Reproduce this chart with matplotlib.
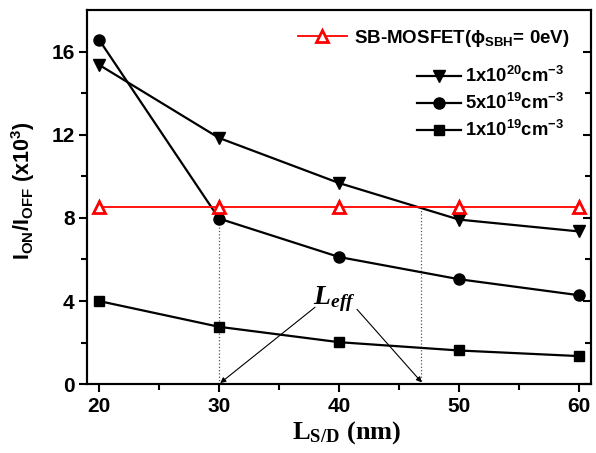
import matplotlib
matplotlib.use("Agg")
import matplotlib.pyplot as plt

plt.rcParams['font.family'] = ['Liberation Sans', 'DejaVu Sans']
plt.rcParams['font.weight'] = 'bold'
plt.rcParams['mathtext.fontset'] = 'custom'
plt.rcParams['mathtext.rm'] = 'Liberation Sans:bold'
plt.rcParams['mathtext.it'] = 'Liberation Sans:bold'
plt.rcParams['mathtext.bf'] = 'Liberation Sans:bold'
plt.rcParams['mathtext.sf'] = 'Liberation Serif:bold'
plt.rcParams['mathtext.cal'] = 'Liberation Serif:bold:italic'

# data
L_sd = [20, 30, 40, 50, 60]
sb_mosfet = [8.54, 8.54, 8.54, 8.54, 8.54]
dop_1e20 = [15.37, 11.85, 9.68, 7.92, 7.35]
dop_5e19 = [16.58, 7.97, 6.12, 5.05, 4.28]
dop_1e19 = [4.0, 2.76, 2.02, 1.62, 1.35]
L_eff = [30.0, 46.8]

labels = [r'SB-MOSFET($\phi_{SBH}$= 0eV)',
          r'1x10$^{20}$cm$^{-3}$',
          r'5x10$^{19}$cm$^{-3}$',
          r'1x10$^{19}$cm$^{-3}$']

fig = plt.figure(figsize=(5.96, 4.53), dpi=100)
ax = fig.add_axes([0.146, 0.152, 0.8456, 0.8256])

for x in L_eff:
    ax.plot([x, x], [0, sb_mosfet[0]], ls=':', color='#555555', lw=0.9, zorder=1)

l2, = ax.plot(L_sd, dop_1e20, '-v', color='black', lw=1.6, ms=9, zorder=3)
l3, = ax.plot(L_sd, dop_5e19, '-o', color='black', lw=1.6, ms=8, zorder=3)
l4, = ax.plot(L_sd, dop_1e19, '-s', color='black', lw=1.6, ms=7, zorder=3)
l1, = ax.plot(L_sd, sb_mosfet, '-^', color='red', lw=1.3, ms=8,
              mfc='white', mec='red', mew=2, zorder=4)

ax.set_xlim(19, 61)
ax.set_ylim(0, 18)
ax.set_xticks([20, 30, 40, 50, 60])
ax.set_xticks([25, 35, 45, 55], minor=True)
ax.set_yticks([0, 4, 8, 12, 16])
ax.set_yticks([2, 6, 10, 14], minor=True)
for s in ax.spines.values():
    s.set_linewidth(1.5)
ax.tick_params(which='major', direction='out', length=6, width=1.5,
               labelsize=15, pad=3, top=False, right=False)
ax.tick_params(which='minor', direction='out', length=4, width=1.5,
               top=False, right=False)
for t in ax.get_xticklabels() + ax.get_yticklabels():
    t.set_fontweight('bold')

ax2 = ax.twinx()
ax2.set_ylim(0, 18)
ax2.set_yticks([0, 4, 8, 12, 16])
ax2.set_yticks([2, 6, 10, 14], minor=True)
ax2.tick_params(which='major', direction='in', length=6, width=1.5, labelright=False)
ax2.tick_params(which='minor', direction='in', length=4, width=1.5, labelright=False)
for s in ax2.spines.values():
    s.set_linewidth(1.5)

ax.set_ylabel(r'I$_{ON}$/I$_{OFF}$ (x10$^{3}$)', fontsize=15.5, fontweight='bold')
ax.yaxis.set_label_coords(-0.10, 0.516)
ax.set_xlabel(r'$\mathsf{L_{S/D}}$ $\mathsf{(nm)}$', fontsize=19)
ax.xaxis.set_label_coords(0.516, -0.094)

ax.annotate('', xy=(30.1, 0.05), xytext=(38.0, 3.7),
            arrowprops=dict(arrowstyle='-|>', lw=0.8, color='black',
                            mutation_scale=8, shrinkA=0, shrinkB=0))
ax.annotate('', xy=(46.9, 0.08), xytext=(41.5, 3.6),
            arrowprops=dict(arrowstyle='-|>', lw=0.8, color='black',
                            mutation_scale=8, shrinkA=0, shrinkB=0))
ax.text(39.6, 3.85, r'$\mathcal{L_{eff}}$', fontsize=20, ha='center', va='baseline')

fig.legend([l1], [labels[0]], loc='upper right', frameon=False,
           bbox_to_anchor=(570/596, 1 - 28/453), bbox_transform=fig.transFigure,
           borderpad=0, borderaxespad=0, handlelength=2.6, handletextpad=0.4,
           prop={'size': 13.5, 'weight': 'bold'})
fig.legend([l2, l3, l4], labels[1:], loc='upper right', frameon=False,
           bbox_to_anchor=(564/596, 1 - 66/453), bbox_transform=fig.transFigure,
           borderpad=0, borderaxespad=0, handlelength=2.4, handletextpad=0.2,
           labelspacing=0.38, prop={'size': 13.2, 'weight': 'bold'})

fig.savefig('out.png', dpi=100)
